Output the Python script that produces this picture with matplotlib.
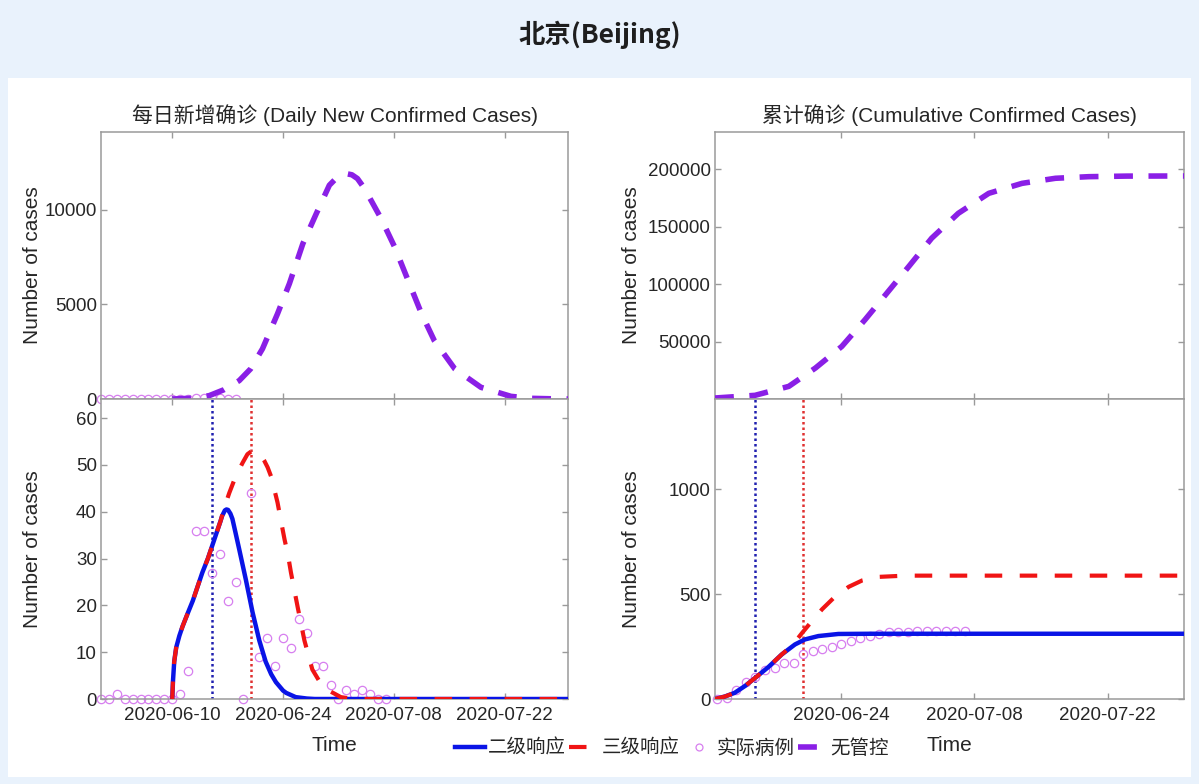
import matplotlib
matplotlib.use('Agg')
import matplotlib.pyplot as plt
import matplotlib.dates as mdates
from matplotlib.patches import Rectangle
from matplotlib.lines import Line2D
import datetime as dt

plt.rcParams['font.family'] = ['Liberation Sans', 'Noto Sans CJK SC']

# ---------------- data ----------------
BASE = dt.datetime(2020, 6, 10)          # day 0 for the model curves

# observed daily new cases, one value per day from 2020-06-01
obs_daily_start = dt.datetime(2020, 6, 1)
obs_daily = [0, 0, 1, 0, 0, 0, 0, 0, 0, 0,
             1, 6, 36, 36, 27, 31, 21, 25, 0, 44,
             9, 13, 7, 13, 11, 17, 14, 7, 7, 3,
             0, 2, 1, 2, 1, 0, 0]
obs_daily_top_n = 18                     # points shown in the upper panel

# observed cumulative cases, one value per day from 2020-06-11
obs_cum_start = dt.datetime(2020, 6, 11)
obs_cum = [1, 7, 43, 79, 106, 137, 150, 172, 173, 215,
           230, 240, 247, 260, 275, 289, 302, 311, 317, 320,
           321, 322, 323, 324, 325, 325, 325]

# model: level-2 response (二级响应), daily new cases (day, value)
l2_daily_day = [0.0, 0.1, 0.25, 0.5, 0.9, 1.3, 2.0, 2.6, 3.2, 3.8, 4.5, 5.1, 5.6, 6.1,
                6.3, 6.65, 6.85, 7.05, 7.35, 7.6, 8.0, 8.46, 9.3, 10.15, 11.0, 11.8,
                12.5, 13.1, 14.0, 14.4, 15.6, 17.0, 18.0, 50.0]
l2_daily_val = [0, 4, 8, 11, 13.5, 15.5, 18.5, 21, 24, 27, 30, 33, 35.5, 38,
                39.1, 40.3, 40.5, 40.4, 39.6, 38.5, 35.5, 32, 25.5, 18.5, 12.5, 8,
                5.3, 3.6, 1.8, 1.3, 0.4, 0.1, 0, 0]

# model: level-3 response (三级响应), daily new cases
l3_daily_day = [0.0, 0.1, 0.25, 0.5, 0.9, 1.3, 2.0, 2.6, 3.2, 3.8, 4.5, 5.1, 5.6, 6.1,
                6.6, 7.2, 8.0, 8.9, 9.5, 10.06, 10.6, 11.1, 11.6, 12.05, 12.5, 13.3,
                13.8, 14.2, 14.6, 15.0, 15.85, 16.7, 17.7, 18.8, 20.0, 21.3, 22.5, 24.0, 50.0]
l3_daily_val = [0, 4, 8, 11, 13.5, 15.5, 18.5, 21, 24, 27, 30, 33, 35.5, 38,
                41, 44, 47.5, 50.5, 52.3, 53, 53, 52.3, 51, 49.5, 47.5, 42,
                37.5, 34, 31, 27, 19.6, 12.5, 6.3, 3.2, 1.6, 0.4, 0.1, 0, 0]

# model: no control (无管控), daily new cases
nc_daily_day = [0.0, 2.2, 4.66, 6.56, 8.46, 9.9, 11.4, 13.3, 14.8, 16.5, 18.2, 19.85,
                20.7, 21.3, 22.0, 22.7, 23.4, 24.3, 26.4, 28.1, 29.8, 31.5, 33.1, 35.7,
                39.0, 42.8, 45.4, 49.2, 50.0]
nc_daily_val = [0, 35, 176, 494, 970, 1590, 2650, 4500, 6090, 8200, 9790, 11290,
                11650, 11820, 11900, 11840, 11640, 11110, 9520, 8025, 6260, 4500, 3090,
                1590, 617, 140, 35, 0, 0]

# model cumulative curves (day, value)
l2_cum_day = [0.75, 1.8, 2.8, 3.9, 4.95, 6.35, 7.75, 9.15, 10.2, 11.6, 13.7, 17.2, 50.0]
l2_cum_val = [0, 12, 29, 62, 100, 152, 212, 260, 284, 300, 310, 311, 311]

l3_cum_day = [0.75, 1.8, 2.8, 3.9, 4.95, 6.35, 7.75, 8.6, 9.15, 9.9, 10.9, 12.0,
              13.4, 14.8, 16.2, 17.9, 20.7, 50.0]
l3_cum_val = [0, 12, 29, 62, 100, 152, 212, 245, 272, 315, 370, 428,
              490, 535, 565, 582, 588, 588]

nc_cum_day = [0.75, 4.95, 8.5, 11.3, 14.07, 16.5, 18.8, 21.1, 23.5, 26.3, 29.5,
              33.0, 36.5, 40.0, 44.0, 50.0]
nc_cum_val = [870, 3190, 11000, 27000, 45800, 69000, 92200, 115400, 140000, 161700,
              179100, 187800, 192200, 193600, 194100, 194200]

# response start dates (vertical dotted lines)
level2_date = dt.datetime(2020, 6, 15)
level3_date = dt.datetime(2020, 6, 20)

left_xticks = [dt.datetime(2020, 6, 10), dt.datetime(2020, 6, 24),
               dt.datetime(2020, 7, 8), dt.datetime(2020, 7, 22)]
right_xticks = [dt.datetime(2020, 6, 24), dt.datetime(2020, 7, 8),
                dt.datetime(2020, 7, 22)]
left_xlim = (dt.datetime(2020, 6, 1), dt.datetime(2020, 7, 30))
right_xlim = (dt.datetime(2020, 6, 10, 18), dt.datetime(2020, 7, 30))

labels = ['二级响应', '三级响应', '实际病例', '无管控']

# ---------------- helpers ----------------
def days(ds):
    return [BASE + dt.timedelta(days=float(d)) for d in ds]

def daily_dates(start, n):
    return [start + dt.timedelta(days=i) for i in range(n)]

BLUE = '#0a14e6'
RED = '#f01414'
PURPLE = '#8a1fe6'
CIRC = '#d77fef'
SPINE = '#9a9a9a'
TXT = '#262626'

def style(ax, xlim, xticks, ylim, yticks, xlabels):
    ax.set_xlim(*xlim)
    ax.set_ylim(*ylim)
    ax.set_yticks(yticks)
    ax.set_xticks(xticks)
    ax.xaxis.set_major_formatter(mdates.DateFormatter('%Y-%m-%d'))
    if not xlabels:
        ax.tick_params(axis='x', labelbottom=False)
    ax.tick_params(direction='in', length=4, width=1, color=SPINE,
                   top=True, right=True, labelsize=13.5, labelcolor=TXT)
    ax.tick_params(axis='x', pad=6)
    ax.tick_params(axis='y', pad=3)
    for s in ax.spines.values():
        s.set_color(SPINE)
        s.set_linewidth(1.1)

# ---------------- figure ----------------
W, H = 1199, 784
fig = plt.figure(figsize=(W / 100, H / 100), dpi=100, facecolor='#E9F2FC')
fig.patches.append(Rectangle((8 / W, 1 - 777 / H), 1183 / W, 699 / H,
                             transform=fig.transFigure, facecolor='white',
                             edgecolor='none', zorder=-10))

fig.text(0.5, 1 - 35 / H, '北京(Beijing)', ha='center', va='center',
         fontsize=19, fontweight='bold', family=['Noto Sans CJK SC'], color='#1e1e1e')

axTL = fig.add_axes([101 / W, 1 - 399 / H, 467 / W, 267 / H])
axBL = fig.add_axes([101 / W, 1 - 699 / H, 467 / W, 300 / H])
axTR = fig.add_axes([715 / W, 1 - 399 / H, 469 / W, 267 / H])
axBR = fig.add_axes([715 / W, 1 - 699 / H, 469 / W, 300 / H])

mk = dict(marker='o', linestyle='none', markersize=6, markerfacecolor='none',
          markeredgecolor=CIRC, markeredgewidth=0.9, clip_on=False)
red_ls = (0, (4.2, 4.2))
pur_ls = (0, (3.4, 2.8))
dot_ls = (0, (1, 1.2))

# top-left: daily, no control
od = daily_dates(obs_daily_start, len(obs_daily))
axTL.plot(od[:obs_daily_top_n], obs_daily[:obs_daily_top_n], zorder=2, **mk)
axTL.plot(days(nc_daily_day), nc_daily_val, color=PURPLE, lw=4, linestyle=pur_ls,
          dash_capstyle='butt', zorder=3)
style(axTL, left_xlim, left_xticks, (0, 14100), [0, 5000, 10000], False)
axTL.set_title('每日新增确诊 (Daily New Confirmed Cases)', fontsize=15, pad=7, color=TXT)

# bottom-left: daily, responses
axBL.axvline(level2_date, color='#2020b0', lw=1.8, linestyle=dot_ls, zorder=1)
axBL.axvline(level3_date, color='#e03030', lw=1.8, linestyle=dot_ls, zorder=1)
axBL.plot(od, obs_daily, zorder=2, **mk)
axBL.plot(days(l2_daily_day), l2_daily_val, color=BLUE, lw=3.2, zorder=3,
          solid_capstyle='round', solid_joinstyle='round')
axBL.plot(days(l3_daily_day), l3_daily_val, color=RED, lw=3, linestyle=red_ls,
          dash_capstyle='butt', zorder=4)
style(axBL, left_xlim, left_xticks, (0, 64.1), [0, 10, 20, 30, 40, 50, 60], True)

# top-right: cumulative, no control
axTR.plot(days(nc_cum_day), nc_cum_val, color=PURPLE, lw=4, linestyle=pur_ls,
          dash_capstyle='butt', zorder=3)
style(axTR, right_xlim, right_xticks, (0, 232500), [50000, 100000, 150000, 200000], False)
axTR.set_title('累计确诊 (Cumulative Confirmed Cases)', fontsize=15, pad=7, color=TXT)

# bottom-right: cumulative, responses
oc = daily_dates(obs_cum_start, len(obs_cum))
axBR.axvline(level2_date, color='#2020b0', lw=1.8, linestyle=dot_ls, zorder=1)
axBR.axvline(level3_date, color='#e03030', lw=1.8, linestyle=dot_ls, zorder=1)
axBR.plot(oc, obs_cum, zorder=2, **mk)
axBR.plot(days(l2_cum_day), l2_cum_val, color=BLUE, lw=3.2, zorder=3,
          solid_joinstyle='round')
axBR.plot(days(l3_cum_day), l3_cum_val, color=RED, lw=3, linestyle=red_ls,
          dash_capstyle='butt', zorder=4)
style(axBR, right_xlim, right_xticks, (0, 1430), [0, 500, 1000], True)

for ax, lx in ((axTL, -0.126), (axBL, -0.126), (axTR, -0.158), (axBR, -0.158)):
    ax.set_ylabel('Number of cases', fontsize=15, color=TXT)
    ax.yaxis.set_label_coords(lx, 0.5)
for ax in (axBL, axBR):
    ax.set_xlabel('Time', fontsize=15, color=TXT)
    ax.xaxis.set_label_coords(0.5, -0.122)

handles = [Line2D([], [], color=BLUE, lw=3.2),
           Line2D([], [], color=RED, lw=3, linestyle=red_ls, dash_capstyle='butt'),
           Line2D([], [], marker='o', linestyle='none', markersize=5,
                  markerfacecolor='none', markeredgecolor=CIRC, markeredgewidth=0.9),
           Line2D([], [], color=PURPLE, lw=4, linestyle=pur_ls, dash_capstyle='butt')]
fig.legend(handles, labels, loc='center', bbox_to_anchor=(672 / W, 1 - 748 / H),
           ncol=4, frameon=False, prop={'family': ['Noto Sans CJK SC'], 'size': 14},
           handlelength=1.55, handletextpad=0.12, columnspacing=0.2,
           labelcolor=TXT)

fig.savefig('out.png', dpi=100, facecolor=fig.get_facecolor())
